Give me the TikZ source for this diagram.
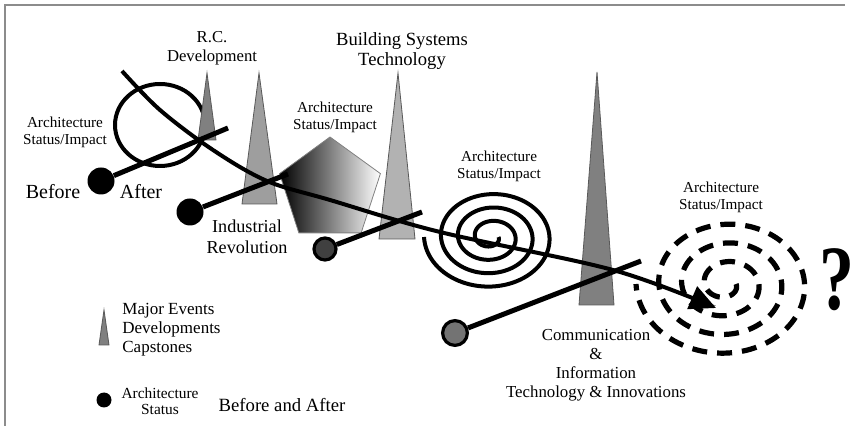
\documentclass[tikz,border=0pt]{standalone}
\usepackage{graphicx}
\usepackage{fontspec}
\setmainfont{Liberation Serif}
\usetikzlibrary{shapes.geometric,arrows.meta}
\definecolor{triA}{gray}{0.50}
\definecolor{triB}{gray}{0.62}
\definecolor{triC}{gray}{0.70}
\definecolor{frame}{gray}{0.55}
\begin{document}
\begin{tikzpicture}[x=0.5pt,y=-0.5pt,
  tri/.style={draw=gray!70!black, line width=0.4pt},
  heavy/.style={line width=2.5pt, black},
  curveline/.style={line width=2pt, black},
  blackdot/.style={circle, fill=black, inner sep=0pt},
  greydot/.style={circle, draw=black, line width=1.6pt, inner sep=0pt},
  small/.style={font=\fontsize{7.6}{8.6}\selectfont, align=center, inner sep=0pt},
  lbl/.style={align=center, inner sep=0pt}
]
\useasboundingbox (0,0) rectangle (855,426);
% frame lines
\draw[frame, line width=0.8pt] (5,426) -- (5,5) -- (845,5);

% first status loop (drawn below triangle)
\draw[curveline] (160,125) ellipse [x radius=45, y radius=41];

% triangles
\filldraw[tri, fill=triA] (207,73) -- (216,140) -- (198,140) -- cycle;
\filldraw[tri, fill=triB] (259,73) -- (277,204) -- (242,204) -- cycle;
\node[regular polygon, regular polygon sides=5, minimum size=53pt, inner sep=0pt,
      left color=black, right color=white, draw=gray, line width=0.4pt] (pent) at (330,190) {};
\filldraw[tri, fill=triC] (398,73) -- (415,239) -- (379,239) -- cycle;
\filldraw[tri, fill=triA] (597,72) -- (614,305) -- (579,305) -- cycle;
% legend triangle
\filldraw[tri, fill=triA] (104,310) -- (109,345) -- (99,345) -- cycle;

% solid spiral
\draw[curveline] plot[domain=0:1260, samples=320, smooth]
  ({491 + (7.5+59.5*(\x/1260))*cos(\x)}, {237 + 0.79*(7.5+59.5*(\x/1260))*sin(\x)});

% dashed spiral
\draw[line width=2.6pt, dash pattern=on 7.5pt off 5pt] plot[domain=0:1260, samples=360, smooth]
  ({726 + (10+80*(\x/1260))*cos(\x)}, {284 + 0.82*(10+80*(\x/1260))*sin(\x)});

% status dots
\node[blackdot, minimum size=13.5pt] (d1) at (101,181) {};
\node[blackdot, minimum size=13.5pt] (d2) at (190,212) {};
\node[greydot, fill=black!75, minimum size=11pt] (d3) at (325,249) {};
\node[greydot, fill=black!55, minimum size=12.4pt] (d4) at (455,333) {};
\node[blackdot, minimum size=7.5pt] (d5) at (104,400) {};

\coordinate (e1) at (228,128);
\coordinate (e2) at (288,174);
\coordinate (e3) at (422,212);
\coordinate (e4) at (641,261);
\draw[heavy] (d1) -- (e1);
\draw[heavy] (d2) -- (e2);
\draw[heavy] (d3) -- (e3);
\draw[heavy] (d4) -- (e4);

% main time curve
\draw[curveline, -{Triangle[length=13pt,width=12pt]}] plot[smooth, tension=0.55] coordinates
  {(122,71) (160,110) (213,150) (267,181) (330,200) (440,232) (613,270) (716,308)};

% labels
\node[lbl, font=\fontsize{8.35}{9.5}\selectfont] (rc) at (212,48) {R.C.\\Development};
\node[lbl, font=\fontsize{9.3}{10}\selectfont] (bst) at (402,51) {Building Systems\\Technology};
\node[small] (a1) at (65,132) {Architecture\\Status/Impact};
\node[small] (a2) at (335,117) {Architecture\\Status/Impact};
\node[small] (a3) at (499,166) {Architecture\\Status/Impact};
\node[small] (a4) at (721,197) {Architecture\\Status/Impact};
\node[lbl, font=\fontsize{10}{10}\selectfont, anchor=base] (before) at (53,199) {Before};
\node[lbl, font=\fontsize{10}{10}\selectfont, anchor=base] (after) at (141,199) {After};
\node[lbl, font=\fontsize{9.1}{10.5}\selectfont] (ind) at (247,237) {Industrial\\Revolution};
\node[lbl, font=\fontsize{8.5}{9.5}\selectfont, align=left, anchor=west] (leg1) at (122,330) {Major Events\\Developments\\Capstones};
\node[small, font=\fontsize{7.7}{8}\selectfont] (leg2) at (160,401) {Architecture\\Status};
\node[lbl, font=\fontsize{9.35}{10}\selectfont] (ba) at (282,405) {Before and After};
\node[lbl, font=\fontsize{8.4}{9.5}\selectfont] (comm) at (596,365) {Communication\\\&\\Information\\Technology \& Innovations};
\node[lbl, font=\fontsize{46}{46}\selectfont\bfseries] (q) at (837,280) {\scalebox{0.76}[1]{?}};
\end{tikzpicture}
\end{document}
